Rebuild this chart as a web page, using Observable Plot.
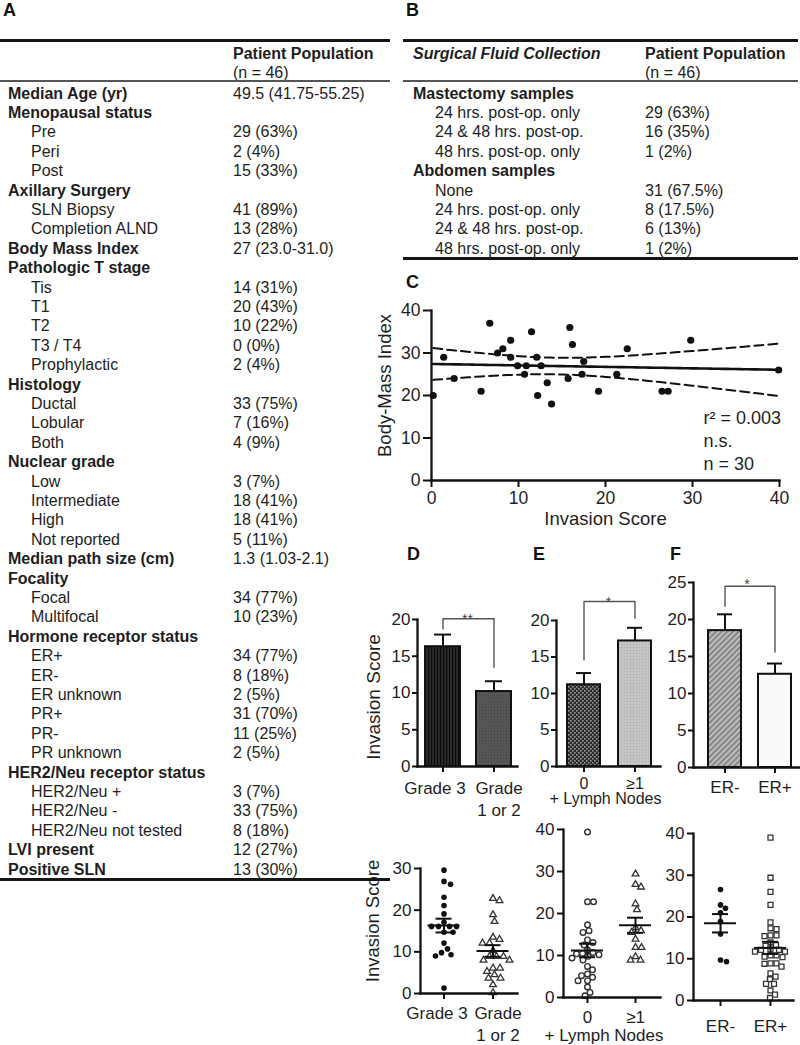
<!DOCTYPE html>
<html><head><meta charset="utf-8">
<script src="https://cdn.jsdelivr.net/npm/d3@7"></script>
<script src="https://cdn.jsdelivr.net/npm/@observablehq/plot@0.6"></script>
<style>
html,body{margin:0;padding:0;background:#fff;}
#root{position:relative;width:800px;height:1045px;overflow:hidden;font-family:"Liberation Sans",Arial,Helvetica,sans-serif;color:#1e1e1e;}
</style></head><body>
<svg width="0" height="0" style="position:absolute;left:0;top:0"><defs>
<pattern id="pG3" width="3" height="4" patternUnits="userSpaceOnUse"><rect width="3" height="4" fill="#2c2c2c"/><rect width="1.2" height="4" fill="#0a0a0a"/></pattern>
<pattern id="pG12" width="3" height="3" patternUnits="userSpaceOnUse"><rect width="3" height="3" fill="#565656"/><rect width="1" height="1" fill="#454545"/></pattern>
<pattern id="pN0" width="4" height="4" patternUnits="userSpaceOnUse"><rect width="4" height="4" fill="#2a2a2a"/><rect x="0" y="0" width="1.6" height="1.6" fill="#9a9a9a"/><rect x="2" y="2" width="1.6" height="1.6" fill="#9a9a9a"/></pattern>
<pattern id="pN1" width="3" height="3" patternUnits="userSpaceOnUse"><rect width="3" height="3" fill="#c4c4c4"/><rect width="1" height="1" fill="#a9a9a9"/></pattern>
<pattern id="pERn" width="4" height="4" patternUnits="userSpaceOnUse" patternTransform="rotate(45)"><rect width="4" height="4" fill="#bcbcbc"/><rect width="1.6" height="4" fill="#7a7a7a"/></pattern>
</defs></svg>
<div id="root"></div>
<script>
// ---------------- DATA ----------------
const tableA = [
  ["Median Age (yr)", "49.5 (41.75-55.25)", "h"],
  ["Menopausal status", "", "h"],
  ["Pre", "29 (63%)", "i"],
  ["Peri", "2 (4%)", "i"],
  ["Post", "15 (33%)", "i"],
  ["Axillary Surgery", "", "h"],
  ["SLN Biopsy", "41 (89%)", "i"],
  ["Completion ALND", "13 (28%)", "i"],
  ["Body Mass Index", "27 (23.0-31.0)", "h"],
  ["Pathologic T stage", "", "h"],
  ["Tis", "14 (31%)", "i"],
  ["T1", "20 (43%)", "i"],
  ["T2", "10 (22%)", "i"],
  ["T3 / T4", "0 (0%)", "i"],
  ["Prophylactic", "2 (4%)", "i"],
  ["Histology", "", "h"],
  ["Ductal", "33 (75%)", "i"],
  ["Lobular", "7 (16%)", "i"],
  ["Both", "4 (9%)", "i"],
  ["Nuclear grade", "", "h"],
  ["Low", "3 (7%)", "i"],
  ["Intermediate", "18 (41%)", "i"],
  ["High", "18 (41%)", "i"],
  ["Not reported", "5 (11%)", "i"],
  ["Median path size (cm)", "1.3 (1.03-2.1)", "h"],
  ["Focality", "", "h"],
  ["Focal", "34 (77%)", "i"],
  ["Multifocal", "10 (23%)", "i"],
  ["Hormone receptor status", "", "h"],
  ["ER+", "34 (77%)", "i"],
  ["ER-", "8 (18%)", "i"],
  ["ER unknown", "2 (5%)", "i"],
  ["PR+", "31 (70%)", "i"],
  ["PR-", "11 (25%)", "i"],
  ["PR unknown", "2 (5%)", "i"],
  ["HER2/Neu receptor status", "", "h"],
  ["HER2/Neu +", "3 (7%)", "i"],
  ["HER2/Neu -", "33 (75%)", "i"],
  ["HER2/Neu not tested", "8 (18%)", "i"],
  ["LVI present", "12 (27%)", "h"],
  ["Positive SLN", "13 (30%)", "h"]
];
const tableB = [
  ["Mastectomy samples", "", "h"],
  ["24 hrs. post-op. only", "29 (63%)", "i"],
  ["24 & 48 hrs. post-op.", "16 (35%)", "i"],
  ["48 hrs. post-op. only", "1 (2%)", "i"],
  ["Abdomen samples", "", "h"],
  ["None", "31 (67.5%)", "i"],
  ["24 hrs. post-op. only", "8 (17.5%)", "i"],
  ["24 & 48 hrs. post-op.", "6 (13%)", "i"],
  ["48 hrs. post-op. only", "1 (2%)", "i"]
];
const headA = ["", "Patient Population", "(n = 46)"];
const headB = ["Surgical Fluid Collection", "Patient Population", "(n = 46)"];

// Panel C: invasion score vs BMI
const cInvasion = [0.2,1.4,2.6,5.7,6.7,7.6,8.2,9.1,9.1,9.9,10.7,10.9,11.5,12.1,12.2,12.6,13.3,13.8,15.7,15.9,16.2,17.3,17.5,19.2,21.3,22.5,26.5,27.2,29.8,39.9];
const cBMI      = [20,29,24,21,37,30,31,33,29,27,25,27,35,29,20,27,23,18,24,36,32,25,28,21,25,31,21,21,33,26];
const cTicks = [0,10,20,30,40];
const cStats = ["r\u00b2 = 0.003", "n.s.", "n = 30"];

// Panels D, E, F bars (mean, SEM)
const dLabels = ["Grade 3", "Grade\n1 or 2"];
const dMean = [16.3, 10.2], dSem = [1.65, 1.4];
const dBracket = [18.7, 20.1, 13.5], dSig = "**";
const eLabels = ["0", "\u22651"];
const eMean = [11.2, 17.2], eSem = [1.6, 1.8];
const eBracket = [14.6, 22.6, 20.3], eSig = "*";
const eSubLabel = "+ Lymph Nodes";
const fLabels = ["ER-", "ER+"];
const fMean = [18.5, 12.6], fSem = [2.2, 1.45];
const fBracket = [21.8, 24.5, 15.6], fSig = "*";
const barTicksDE = [0,5,10,15,20];
const barTicksF = [0,5,10,15,20,25];

// Bottom dot plots (individual invasion scores)
const dGrade3 = [29.6,26.9,26.2,23.1,21.1,19.1,17.1,16.1,16.1,16.1,16.1,14.7,14.7,12.1,10.7,9.8,9.3,9.0,1.3];
const dGrade12 = [22.8,22.3,18.9,17.3,13.5,13.0,12.1,12.1,10.3,8.9,8.9,8.9,8.0,8.0,6.1,6.1,5.3,4.5,3.7,3.7,2.1,0.2];
const eNodes0 = [39.4,22.8,22.8,17.3,15.9,15.5,13.7,13.1,12.5,11.3,10.7,10.5,10.4,10.2,9.8,9.4,8.9,7.4,6.6,5.6,5.2,4.8,4.0,4.0,2.5,1.2,0.4];
const eNodes1 = [29.4,26.9,26.3,22.3,20.9,16.6,15.9,15.5,13.9,11.9,11.9,9.7,8.9,8.9];
const fERneg = [26.6,22.9,22.1,21.0,18.9,15.9,9.7,9.3];
const fERpos = [39.0,29.4,26.0,22.9,18.7,17.3,17.1,15.6,15.6,15.4,13.9,13.3,13.1,12.2,12.1,12.1,11.7,11.7,10.8,10.8,10.5,10.4,8.9,8.9,8.8,8.1,6.5,5.7,5.1,4.0,4.0,2.4,1.4,0.6];
const dotTicks30 = [0,10,20,30];
const dotTicks40 = [0,10,20,30,40];

// ---------------- STYLE / LAYOUT ----------------
const root = document.getElementById("root");
const FONT = '"Liberation Sans", Arial, Helvetica, sans-serif';
const INK = "#1e1e1e";
const AX = "#111";
const svgStyle = () => ({background: "transparent", overflow: "visible", fontFamily: FONT, fontSize: "17px", color: INK});

function box(left, top, text, css) {
  const d = document.createElement("div");
  d.style.cssText = `position:absolute;left:${left}px;top:${top}px;white-space:nowrap;${css || ""}`;
  d.textContent = text;
  root.appendChild(d);
}
function hline(left, top, width, h, color) {
  const d = document.createElement("div");
  d.style.cssText = `position:absolute;left:${left}px;top:${top}px;width:${width}px;height:${h}px;background:${color};`;
  root.appendChild(d);
}
function place(node, left, top, width) {
  const d = document.createElement("div");
  d.style.cssText = `position:absolute;left:${left}px;top:${top}px;width:${width}px;`;
  d.appendChild(node);
  root.appendChild(d);
}

// Panel letters
[["A",3,1.3],["B",406,1.3],["C",406,273.3],["D",407,545.3],["E",533,545.3],["F",670,545.3]]
  .forEach(([t,x,y]) => box(x, y, t, "font-size:18px;line-height:18px;font-weight:bold;color:#111;"));

function drawTable(rows, head, o) {
  const pitch = 19.4, rowTop = 83.5;
  hline(o.left, 38.5, o.width, 3, "#151515");
  if (head[0]) box(o.col1, 43.5, head[0], "font-size:16px;line-height:19px;font-style:italic;font-weight:bold;");
  box(o.col2, 43.5, head[1], "font-size:16px;line-height:19px;font-weight:bold;");
  box(o.col2, 62.5, head[2], "font-size:16px;line-height:19px;");
  hline(o.left, 80.3, o.width, 1.4, "#555");
  rows.forEach(([label, value, kind], i) => {
    const top = rowTop + i * pitch;
    box(kind === "h" ? o.col1 : o.indent, top, label,
      `font-size:16px;line-height:${pitch}px;font-weight:${kind === "h" ? "bold" : "normal"};`);
    if (value) box(o.col2, top, value, `font-size:16px;line-height:${pitch}px;`);
  });
  hline(o.left, rowTop + rows.length * pitch - 1, o.width, 3, "#151515");
}
drawTable(tableA, headA, {left: 0, width: 390, col1: 8, indent: 31, col2: 233});
drawTable(tableB, headB, {left: 403, width: 395, col1: 413, indent: 435, col2: 645});

// ---------------- PANEL C ----------------
{
  const W = 440, H = 240, ml = 71, mr = 21, mt = 15, mb = 55;
  const pts = cInvasion.map((x, i) => ({x, y: cBMI[i]}));
  const n = pts.length, mx = d3.mean(cInvasion), my = d3.mean(cBMI);
  const sxx = d3.sum(cInvasion, x => (x - mx) ** 2);
  const sxy = d3.sum(pts, p => (p.x - mx) * (p.y - my));
  const b = sxy / sxx, a = my - b * mx;
  const s = Math.sqrt(d3.sum(pts, p => (p.y - a - b * p.x) ** 2) / (n - 2));
  const tcrit = 2.048; // t(0.975, df = 28)
  const [x0, x1] = d3.extent(cInvasion);
  const fit = d3.range(0, 81).map(k => {
    const x = x0 + (x1 - x0) * k / 80, yh = a + b * x;
    const se = s * Math.sqrt(1 / n + (x - mx) ** 2 / sxx);
    return {x, yh, lo: yh - tcrit * se, hi: yh + tcrit * se};
  });
  const chart = Plot.plot({
    width: W, height: H, marginLeft: ml, marginRight: mr, marginTop: mt, marginBottom: mb,
    style: svgStyle(),
    x: {domain: [0, 40], axis: null},
    y: {domain: [0, 40], axis: null},
    marks: [
      Plot.line(fit, {x: "x", y: "hi", stroke: AX, strokeWidth: 2, strokeDasharray: "9,5"}),
      Plot.line(fit, {x: "x", y: "lo", stroke: AX, strokeWidth: 2, strokeDasharray: "9,5"}),
      Plot.line(fit, {x: "x", y: "yh", stroke: AX, strokeWidth: 2.6}),
      Plot.dot(pts, {x: "x", y: "y", r: 3.6, fill: AX}),
      Plot.frame({anchor: "left", stroke: AX, strokeWidth: 2.3}),
      Plot.frame({anchor: "bottom", stroke: AX, strokeWidth: 2.3}),
      Plot.axisY({ticks: cTicks, tickSize: 8, tickPadding: 3, stroke: AX, strokeWidth: 2, fontSize: 17.5, label: null}),
      Plot.axisX({ticks: cTicks, tickSize: 7, tickPadding: 4, stroke: AX, strokeWidth: 2, fontSize: 17.5, label: null}),
      Plot.text(["Body-Mass Index"], {frameAnchor: "left", dx: -46, dy: -10, rotate: -90, textAnchor: "middle", fontSize: 18.5, fill: INK}),
      Plot.text(["Invasion Score"], {frameAnchor: "bottom", dy: 44, textAnchor: "middle", fontSize: 18.5, fill: INK}),
      Plot.text([cStats.join("\n")], {frameAnchor: "top-left", dx: 272, dy: 97, lineAnchor: "top", textAnchor: "start", lineHeight: 1.28, fontSize: 18, fill: INK})
    ]
  });
  place(chart, 360, 295, W);
}

// ---------------- BAR PANELS ----------------
function labelMarks(rows, xKey, o) {
  return rows.map((r, i) => Plot.text([r], {x: xKey, text: "t", frameAnchor: "bottom", lineAnchor: "top", textAnchor: "middle",
    dx: o.labelDx ? o.labelDx[i] : 0, dy: o.labelDy, lineHeight: 1.24, fontSize: o.labelSize || 17, fill: INK}));
}
function barPanel(o) {
  const rows = o.labels.map((g, i) => ({g, t: g, v: o.means[i], s: o.sems[i]}));
  const br = o.bracket;
  const bracketPts = [
    {g: o.labels[0], v: br[0]}, {g: o.labels[0], v: br[1]},
    {g: o.labels[1], v: br[1]}, {g: o.labels[1], v: br[2]}
  ];
  const marks = rows.map((r, i) => Plot.barY([r], {x: "g", y: "v", fill: o.fills[i], stroke: AX, strokeWidth: 2}));
  marks.push(
    Plot.ruleX(rows, {x: "g", y1: "v", y2: d => d.v + d.s, stroke: AX, strokeWidth: 2}),
    Plot.tickY(rows, {x: "g", y: d => d.v + d.s, insetLeft: o.capInset, insetRight: o.capInset, stroke: AX, strokeWidth: 2}),
    Plot.line(bracketPts, {x: "g", y: "v", stroke: "#555", strokeWidth: 1.4}),
    Plot.text([o.sig], {frameAnchor: "top", textAnchor: "middle", dy: o.sigDy, fontSize: 14, fill: "#444"}),
    Plot.frame({anchor: "left", stroke: AX, strokeWidth: 2.3}),
    Plot.frame({anchor: "bottom", stroke: AX, strokeWidth: 2.3}),
    Plot.axisY({ticks: o.yticks, tickSize: 5, tickPadding: 2, stroke: AX, strokeWidth: 2, fontSize: 17, label: null}),
    Plot.axisX({tickSize: 6, stroke: AX, strokeWidth: 2, tickFormat: () => "", label: null}),
    ...labelMarks(rows, "g", o)
  );
  if (o.title) marks.push(Plot.text([o.title], {frameAnchor: "left", textAnchor: "middle", dx: o.titleDx, dy: o.titleDy, rotate: -90, fontSize: 19, fill: INK}));
  if (o.sub) marks.push(Plot.text([o.sub], {frameAnchor: "bottom", lineAnchor: "top", textAnchor: "middle", dx: o.subDx, dy: o.subDy, fontSize: o.labelSize || 17, fill: INK}));
  const chart = Plot.plot({
    width: o.width, height: o.height,
    marginLeft: o.ml, marginRight: o.mr, marginTop: o.mt, marginBottom: o.mb,
    style: svgStyle(),
    x: {type: "band", domain: o.labels, paddingInner: o.pi, paddingOuter: o.po, align: o.align, axis: null},
    y: {domain: o.ydomain, axis: null},
    marks
  });
  place(chart, o.left, o.top, o.width);
}

barPanel({left: 362, top: 560, width: 160, height: 250, ml: 55, mr: 5, mt: 59, mb: 44,
  labels: dLabels, means: dMean, sems: dSem, fills: ["url(#pG3)", "url(#pG12)"],
  bracket: dBracket, sig: dSig, sigDy: -5.5, yticks: barTicksDE, ydomain: [0, 20],
  pi: 0.32, po: 0.14, align: 0.55, capInset: 9, labelDy: 13, labelDx: [-8, 5],
  title: "Invasion Score", titleDx: -44, titleDy: 4});
barPanel({left: 522, top: 560, width: 143, height: 250, ml: 34, mr: 5, mt: 60, mb: 44,
  labels: eLabels, means: eMean, sems: eSem, fills: ["url(#pN0)", "url(#pN1)"],
  bracket: eBracket, sig: eSig, sigDy: -23.5, yticks: barTicksDE, ydomain: [0, 20],
  pi: 0.35, po: 0.185, align: 0.53, capInset: 9, labelDy: 8, labelSize: 16,
  sub: eSubLabel, subDx: -3, subDy: 26.5});
barPanel({left: 665, top: 540, width: 135, height: 270, ml: 28, mr: 0, mt: 42, mb: 43,
  labels: fLabels, means: fMean, sems: fSem, fills: ["url(#pERn)", "#fafafa"],
  bracket: fBracket, sig: fSig, sigDy: -3.5, yticks: barTicksF, ydomain: [0, 25],
  pi: 0.337, po: 0.228, align: 0.61, capInset: 9, labelDy: 11});

// ---------------- DOT PANELS ----------------
function swarm(vals, pxY, pxX, dist) {
  const order = d3.range(vals.length).sort((a, b) => vals[b] - vals[a]);
  const placed = [], off = new Array(vals.length).fill(0);
  for (const i of order) {
    const y = vals[i] * pxY;
    let pick = 0;
    for (let k = 0; k < 400; k++) {
      const c = k === 0 ? 0 : (k % 2 ? 1 : -1) * Math.ceil(k / 2) * 0.5;
      if (placed.every(p => (p.x - c) ** 2 + (p.y - y) ** 2 >= dist * dist)) { pick = c; break; }
    }
    placed.push({x: pick, y});
    off[i] = pick / pxX;
  }
  return off;
}

function dotPanel(o) {
  const pw = o.width - o.ml - o.mr, ph = o.height - o.mt - o.mb;
  const pxX = pw / (o.xdomain[1] - o.xdomain[0]), pxY = ph / o.ymax;
  const stats = o.means.map((m, i) => ({i, m, s: o.sems[i]}));
  const meanHalf = 16 / pxX, capHalf = 8 / pxX;
  const marks = [];
  o.groups.forEach((vals, gi) => {
    const off = swarm(vals, pxY, pxX, o.dist);
    const pts = vals.map((v, j) => ({x: gi + off[j], v}));
    const st = o.symbols[gi];
    marks.push(Plot.dot(pts, {x: "x", y: "v", symbol: st.symbol, r: st.r, fill: st.fill, stroke: st.stroke, strokeWidth: st.sw}));
  });
  const labelRows = o.labels.map((t, i) => ({i, t}));
  marks.push(
    Plot.ruleY(stats, {y: "m", x1: d => d.i - meanHalf, x2: d => d.i + meanHalf, stroke: AX, strokeWidth: 2}),
    Plot.ruleX(stats, {x: "i", y1: d => d.m - d.s, y2: d => d.m + d.s, stroke: AX, strokeWidth: 2}),
    Plot.ruleY(stats, {y: d => d.m + d.s, x1: d => d.i - capHalf, x2: d => d.i + capHalf, stroke: AX, strokeWidth: 2}),
    Plot.ruleY(stats, {y: d => d.m - d.s, x1: d => d.i - capHalf, x2: d => d.i + capHalf, stroke: AX, strokeWidth: 2}),
    Plot.frame({anchor: "left", stroke: AX, strokeWidth: 2.3}),
    Plot.frame({anchor: "bottom", stroke: AX, strokeWidth: 2.3}),
    Plot.axisY({ticks: o.yticks, tickSize: 6, tickPadding: 3, stroke: AX, strokeWidth: 2, fontSize: 17, label: null}),
    Plot.axisX({ticks: [0, 1], tickSize: 6, stroke: AX, strokeWidth: 2, tickFormat: () => "", label: null}),
    ...labelMarks(labelRows, "i", o)
  );
  if (o.title) marks.push(Plot.text([o.title], {frameAnchor: "left", textAnchor: "middle", dx: o.titleDx, dy: o.titleDy, rotate: -90, fontSize: 18.5, fill: INK}));
  if (o.sub) marks.push(Plot.text([o.sub], {frameAnchor: "bottom", lineAnchor: "top", textAnchor: "middle", dx: o.subDx, dy: o.subDy, fontSize: 17, fill: INK}));
  const chart = Plot.plot({
    width: o.width, height: o.height,
    marginLeft: o.ml, marginRight: o.mr, marginTop: o.mt, marginBottom: o.mb,
    style: svgStyle(),
    x: {domain: o.xdomain, axis: null},
    y: {domain: [0, o.ymax], axis: null},
    marks
  });
  place(chart, o.left, o.top, o.width);
}

const filledCircle = {symbol: "circle", r: 2.8, fill: AX, stroke: "none", sw: 0};
const openTriangle = {symbol: "triangle", r: 2.5, fill: "white", stroke: "#333", sw: 1.3};
const openCircle = {symbol: "circle", r: 2.8, fill: "white", stroke: "#333", sw: 1.4};
const openSquare = {symbol: "square", r: 2.8, fill: "white", stroke: "#333", sw: 1.3};

dotPanel({left: 362, top: 838, width: 160, height: 207, ml: 58, mr: 5, mt: 30, mb: 52,
  xdomain: [-0.48, 1.5], ymax: 30, yticks: dotTicks30, dist: 6.8,
  groups: [dGrade3, dGrade12], symbols: [filledCircle, openTriangle],
  means: dMean, sems: dSem, labels: dLabels, labelDy: 11, labelDx: [-7, 5],
  title: "Invasion Score", titleDx: -47, titleDy: -10});
dotPanel({left: 522, top: 800, width: 143, height: 245, ml: 41, mr: 5, mt: 29, mb: 48,
  xdomain: [-0.5, 1.52], ymax: 40, yticks: dotTicks40, dist: 6,
  groups: [eNodes0, eNodes1], symbols: [openCircle, openTriangle],
  means: eMean, sems: eSem, labels: eLabels, labelDy: 11,
  sub: eSubLabel, subDx: -8, subDy: 31});
dotPanel({left: 665, top: 800, width: 135, height: 245, ml: 28, mr: 7, mt: 33, mb: 45,
  xdomain: [-0.54, 1.46], ymax: 40, yticks: dotTicks40, dist: 5.8,
  groups: [fERneg, fERpos], symbols: [filledCircle, openSquare],
  means: fMean, sems: fSem, labels: fLabels, labelDy: 17});
</script>
</body></html>
